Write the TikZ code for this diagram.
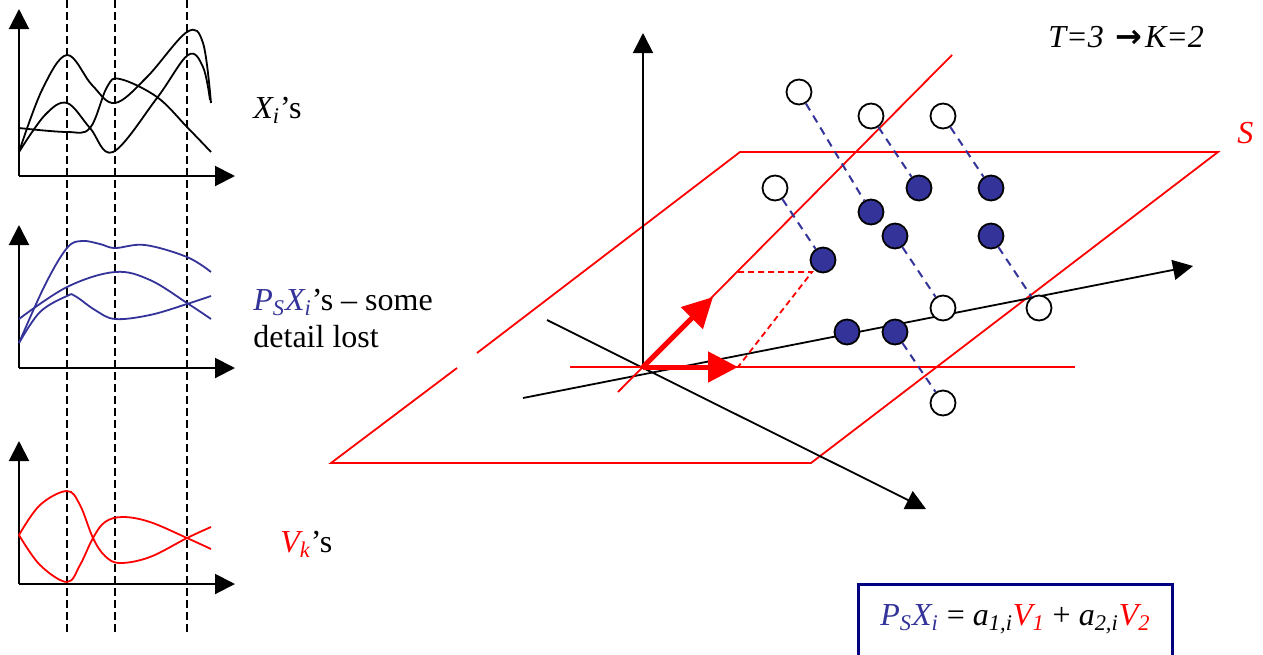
\documentclass[tikz,border=0pt]{standalone}
\usepackage{fontspec}
\setmainfont{Liberation Serif}
\newfontfamily\symfont{DejaVu Sans}
\usetikzlibrary{arrows.meta}
\definecolor{pblue}{HTML}{333399}
\definecolor{navyb}{HTML}{000080}
\definecolor{pred}{HTML}{FF0000}
\begin{document}
\begin{tikzpicture}[x=0.5pt,y=-0.5pt,
  txt/.style={font=\fontsize{16}{18.5}\selectfont, inner sep=0pt, anchor=base west},
  axis/.style={line width=1pt, -{Triangle[length=10pt,width=10pt]}},
  axis3/.style={line width=0.9pt, -{Triangle[length=10pt,width=10pt]}},
  vdash/.style={line width=0.9pt, dash pattern=on 4pt off 2pt},
  curve/.style={line width=0.9pt, smooth, tension=0.6},
  plane/.style={pred, line width=0.9pt},
  thickarrow/.style={pred, line width=2.5pt, -{Triangle[length=15pt,width=15pt]}},
  reddash/.style={pred, line width=0.9pt, dash pattern=on 3pt off 2pt},
  projline/.style={pblue, line width=1pt, dash pattern=on 4pt off 3pt},
  wc/.style={circle, draw=black, fill=white, line width=0.9pt, minimum size=12.5pt, inner sep=0pt},
  bc/.style={circle, draw=black, fill=pblue, line width=0.9pt, minimum size=12.5pt, inner sep=0pt}
]
\useasboundingbox (0,0) rectangle (1263,654);
\clip (0,0) rectangle (1263,654);
\fill[white] (0,0) rectangle (1263,654);

% ---------- left: three small plots ----------
\foreach \xx in {67,115,187} \draw[vdash] (\xx,0) -- (\xx,632);

% plot 1
\coordinate (o1) at (19,176);
\draw[axis] (o1) -- (19,9);
\draw[axis] (o1) -- (235,176);
\draw[curve] plot coordinates {(19,152) (42,90) (67,55) (92,85) (115,103) (147,77) (187,32) (203,43) (211,103)};
\draw[curve] plot coordinates {(19,152) (45,115) (67,103) (90,128) (113,152) (157,98) (188,55) (203,67) (210,100)};
\draw[curve] plot coordinates {(19,128) (67,132) (90,128) (107,87) (120,79) (157,97) (187,127) (211,152)};
\node[txt] (lx) at (253,118) {\textit{X\textsubscript{i}}’s};

% plot 2
\coordinate (o2) at (19,368);
\draw[axis] (o2) -- (19,225);
\draw[axis] (o2) -- (235,368);
\begin{scope}[pblue]
\draw[curve] plot coordinates {(19,343) (45,285) (67,248) (82,241) (100,244) (115,248) (145,245) (187,257) (211,272)};
\draw[curve] plot coordinates {(19,319) (67,287) (115,272) (150,280) (187,303) (211,319)};
\draw[curve] plot coordinates {(19,343) (40,312) (67,296) (75,296) (95,310) (115,319) (150,315) (187,304) (211,296)};
\end{scope}
\node[txt] (lp1) at (253,310) {\textcolor{pblue}{\textit{P\textsubscript{S}X\textsubscript{i}}}’s – some};
\node[txt] (lp2) at (253,347) {detail lost};

% plot 3
\coordinate (o3) at (19,584);
\draw[axis] (o3) -- (19,441);
\draw[axis] (o3) -- (235,584);
\begin{scope}[pred]
\draw[curve] plot coordinates {(19,535) (40,505) (67,491) (80,505) (93,538) (105,556) (120,563) (150,557) (187,538) (211,527)};
\draw[curve] plot coordinates {(19,535) (40,565) (67,582) (80,565) (93,538) (105,522) (123,517) (150,522) (187,538) (211,549)};
\end{scope}
\node[txt] (lv) at (280,552) {\textcolor{pred}{\textit{V\textsubscript{k}}}’s};

% ---------- right: 3D sketch ----------
% plane S
\draw[plane] (457,368) -- (331,463) -- (811,463) -- (1218,152) -- (740,152) -- (477,353);
\node[txt, text=pred] (ls) at (1237,143) {\textit{S}};

% axes
\coordinate (O) at (643,367);
\draw[axis3] (O) -- (643,33);
\coordinate (a1s) at (547,320);
\coordinate (a1e) at (926,509);
\draw[axis3] (a1s) -- (a1e);
\coordinate (a2s) at (523,398);
\coordinate (a2e) at (1193,266);
\draw[axis3] (a2s) -- (a2e);

% red lines in the plane
\draw[plane] (570,367) -- (1075,367);
\draw[plane] (618,392) -- (952,55);

% basis vectors
\coordinate (v1) at (713,297);
\coordinate (v2) at (738,367);
\coordinate (c1) at (738,272);
\coordinate (c2) at (812,272);
\draw[reddash] (c1) -- (c2) -- (v2);
\draw[thickarrow] (O) -- (v1);
\draw[thickarrow] (O) -- (v2);

% points
\node[wc] (w1) at (799,92) {};
\node[wc] (w2) at (871,116) {};
\node[wc] (w3) at (943,116) {};
\node[wc] (w4) at (775,188) {};
\node[wc] (w5) at (943,308) {};
\node[wc] (w6) at (1039,308) {};
\node[wc] (w7) at (943,403) {};
\node[bc] (b1) at (871,212) {};
\node[bc] (b2) at (919,188) {};
\node[bc] (b3) at (991,188) {};
\node[bc] (b4) at (823,260) {};
\node[bc] (b5) at (895,236) {};
\node[bc] (b6) at (991,236) {};
\node[bc] (b7) at (847,332) {};
\node[bc] (b8) at (895,332) {};

\draw[projline] (w1) -- (b1);
\draw[projline] (w2) -- (b2);
\draw[projline] (w3) -- (b3);
\draw[projline] (w4) -- (b4);
\draw[projline] (b5) -- (w5);
\draw[projline] (b6) -- (w6);
\draw[projline] (b8) -- (w7);

% titles
\node[txt] (tk) at (1048,47) {\textit{T=3}\hspace{0.35em}{\symfont\bfseries →}\hspace{0.1em}\textit{K=2}};

% formula box
\draw[navyb, line width=1.5pt] (858,584) rectangle (1172,700);
\node[txt] (fm) at (880,625) {\textcolor{pblue}{\textit{P\textsubscript{S}X\textsubscript{i}}} = \textit{a\textsubscript{1,i}}\textcolor{pred}{\textit{V\textsubscript{1}}} + \textit{a\textsubscript{2,i}}\textcolor{pred}{\textit{V\textsubscript{2}}}};
\end{tikzpicture}
\end{document}
